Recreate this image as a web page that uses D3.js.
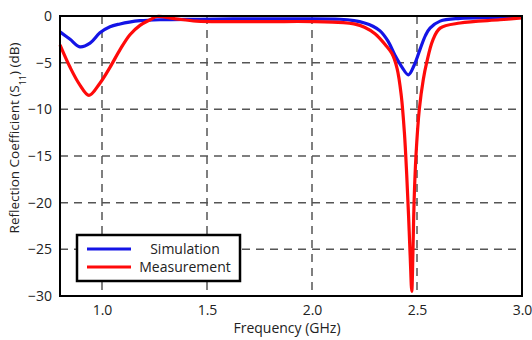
<!DOCTYPE html>
<html>
<head>
<meta charset="utf-8">
<script src="https://cdn.jsdelivr.net/npm/d3@7"></script>
<style>
  body { margin: 0; background: #fff; }
  text { font-family: "Open Sans", sans-serif; fill: #222; }
</style>
</head>
<body>
<div id="chart"></div>
<script>
// frequency (GHz) / S11 (dB)
var simFreq = [0.80, 0.848, 0.895, 0.943, 0.99, 1.038, 1.086, 1.13, 1.181, 1.276, 1.467, 1.705, 1.943, 2.133, 2.2, 2.25, 2.29, 2.324, 2.362, 2.395, 2.429, 2.459, 2.486, 2.514, 2.54, 2.562, 2.61, 2.705, 2.85, 3.0];
var simS11 = [-1.7, -2.5, -3.3, -2.9, -1.8, -1.15, -0.85, -0.65, -0.5, -0.4, -0.35, -0.3, -0.3, -0.35, -0.5, -0.75, -1.1, -1.6, -2.7, -4.2, -5.5, -6.3, -5.3, -3.6, -2.1, -1.3, -0.55, -0.25, -0.15, -0.1];

var measFreq = [0.80, 0.848, 0.895, 0.938, 0.99, 1.038, 1.086, 1.133, 1.181, 1.229, 1.262, 1.35, 1.45, 1.6, 1.8, 2.0, 2.15, 2.2, 2.25, 2.3, 2.35, 2.38, 2.405, 2.425, 2.44, 2.451, 2.46, 2.468, 2.475, 2.481, 2.486, 2.495, 2.511, 2.53, 2.546, 2.575, 2.61, 2.705, 2.895, 3.0];
var measS11 = [-3.1, -5.5, -7.4, -8.5, -7.2, -5.5, -3.6, -2.0, -1.0, -0.4, -0.05, -0.3, -0.55, -0.6, -0.6, -0.6, -0.7, -0.85, -1.2, -1.9, -3.1, -4.0, -5.6, -8.5, -12.5, -17, -21.5, -26, -29.5, -25, -20, -15, -10, -6.8, -5, -2.6, -1.3, -0.75, -0.4, -0.2];

var xTicks = [1.0, 1.5, 2.0, 2.5, 3.0];
var yTicks = [0, -5, -10, -15, -20, -25, -30];
var seriesNames = ["Simulation", "Measurement"];
var seriesColors = ["#1414e6", "#ff0a0a"];

var width = 532, height = 340;
var margin = { top: 16, right: 10, bottom: 44, left: 60 };

var x = d3.scaleLinear().domain([0.8, 3.0]).range([margin.left, width - margin.right]);
var y = d3.scaleLinear().domain([-30, 0]).range([height - margin.bottom, margin.top]);

var svg = d3.select("#chart").append("svg")
    .attr("width", width)
    .attr("height", height);

// grid
svg.append("g").selectAll("line").data(xTicks.filter(function (d) { return d < 3; }))
  .enter().append("line")
    .attr("x1", function (d) { return x(d); }).attr("x2", function (d) { return x(d); })
    .attr("y1", y(0)).attr("y2", y(-30))
    .attr("stroke", "#555").attr("stroke-width", 1.5).attr("stroke-dasharray", "8,6");
svg.append("g").selectAll("line").data(yTicks.filter(function (d) { return d < 0 && d > -30; }))
  .enter().append("line")
    .attr("x1", x(0.8)).attr("x2", x(3.0))
    .attr("y1", function (d) { return y(d); }).attr("y2", function (d) { return y(d); })
    .attr("stroke", "#555").attr("stroke-width", 1.5).attr("stroke-dasharray", "8,6");

// curves
var line = d3.line()
    .x(function (d) { return x(d[0]); })
    .y(function (d) { return y(d[1]); })
    .curve(d3.curveCatmullRom.alpha(0.5));

var sim = d3.zip(simFreq, simS11);
var meas = d3.zip(measFreq, measS11);

svg.append("path").datum(sim).attr("d", line)
    .attr("fill", "none").attr("stroke", seriesColors[0]).attr("stroke-width", 3.2);
svg.append("path").datum(meas).attr("d", line)
    .attr("fill", "none").attr("stroke", seriesColors[1]).attr("stroke-width", 3.2);

// frame
svg.append("rect")
    .attr("x", x(0.8)).attr("y", y(0))
    .attr("width", x(3.0) - x(0.8)).attr("height", y(-30) - y(0))
    .attr("fill", "none").attr("stroke", "#000").attr("stroke-width", 2);

// axes (labels only)
var xAxis = svg.append("g")
    .attr("transform", "translate(0," + y(-30) + ")")
    .call(d3.axisBottom(x).tickValues(xTicks).tickFormat(d3.format(".1f")).tickSize(0).tickPadding(9));
xAxis.select(".domain").remove();
xAxis.selectAll("text").style("font-size", "14px").attr("fill", "#222");

var yAxis = svg.append("g")
    .attr("transform", "translate(" + x(0.8) + ",0)")
    .call(d3.axisLeft(y).tickValues(yTicks).tickFormat(d3.format("d")).tickSize(0).tickPadding(8));
yAxis.select(".domain").remove();
yAxis.selectAll("text").style("font-size", "14px").attr("fill", "#222");

// axis titles
svg.append("text")
    .attr("x", (x(0.8) + x(3.0)) / 2 - 4).attr("y", 333)
    .attr("text-anchor", "middle").style("font-size", "14px")
    .text("Frequency (GHz)");

var yt = svg.append("text")
    .attr("transform", "translate(19," + ((y(0) + y(-30)) / 2 - 18) + ") rotate(-90)")
    .attr("text-anchor", "middle").style("font-size", "13.5px");
yt.append("tspan").text("Reflection Coefficient (S");
yt.append("tspan").attr("baseline-shift", "sub").style("font-size", "9px").text("11");
yt.append("tspan").text(") (dB)");

// legend
var lg = svg.append("g");
lg.append("rect")
    .attr("x", 77).attr("y", 235).attr("width", 163).attr("height", 46)
    .attr("fill", "#fff").attr("stroke", "#000").attr("stroke-width", 2.5);
seriesNames.forEach(function (name, i) {
  var ly = 249 + i * 18;
  lg.append("line")
      .attr("x1", 87).attr("x2", 131).attr("y1", ly).attr("y2", ly)
      .attr("stroke", seriesColors[i]).attr("stroke-width", 3.2);
  lg.append("text")
      .attr("x", 185).attr("y", ly + 5)
      .attr("text-anchor", "middle").style("font-size", "14px")
      .text(name);
});
</script>
</body>
</html>
